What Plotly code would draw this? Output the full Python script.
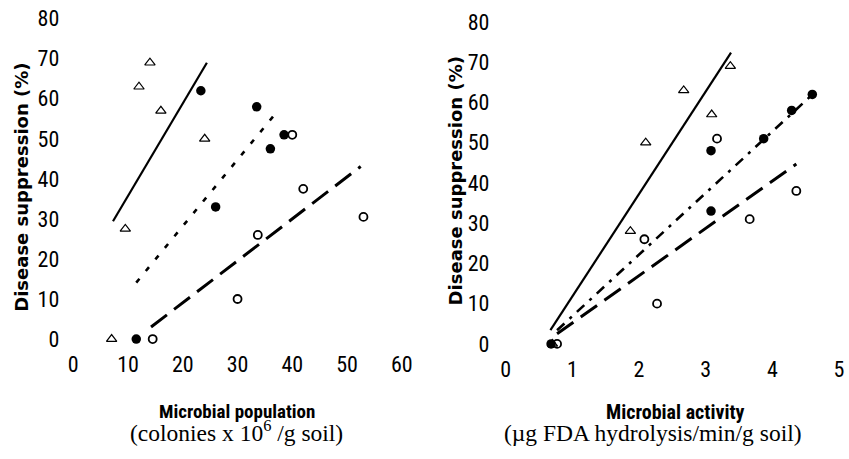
import plotly.graph_objects as go

W, H = 849, 459


def fx(p):
    return p / W


def fy(p):
    return 1 - p / H


# ---------------- Left panel: microbial population ----------------
pop_tri_x = [14, 12, 16, 24, 9.5, 7]
pop_tri_y = [69, 63, 57, 50, 27.5, 0]
pop_fill_x = [23.3, 33.5, 38.5, 36, 26, 11.5]
pop_fill_y = [62, 58, 51, 47.5, 33, 0]
pop_open_x = [40, 42, 53, 33.7, 30, 14.5]
pop_open_y = [51, 37.5, 30.5, 26, 10, 0]
# fitted lines (end points)
pop_fit_tri_x = [7.25, 24.4]
pop_fit_tri_y = [29.4, 69.0]
pop_fit_fill_x = [11.5, 37.6]
pop_fit_fill_y = [14.1, 57.4]
pop_fit_open_x = [14.2, 52.5]
pop_fit_open_y = [3.0, 43.1]

# ---------------- Right panel: microbial activity ----------------
act_tri_x = [3.37, 2.67, 3.09, 2.10, 1.87, 0.70]
act_tri_y = [69, 63, 57, 50, 28, 0]
act_fill_x = [4.60, 4.29, 3.87, 3.08, 3.08, 0.68]
act_fill_y = [62, 58, 51, 48, 33, 0]
act_open_x = [3.17, 4.36, 3.66, 2.08, 2.27, 0.77]
act_open_y = [51, 38, 31, 26, 10, 0]
act_fit_tri_x = [0.67, 3.38]
act_fit_tri_y = [3.4, 72.4]
act_fit_fill_x = [0.77, 4.61]
act_fit_fill_y = [3.4, 62.1]
act_fit_open_x = [0.77, 4.36]
act_fit_open_y = [2.5, 44.7]

y_ticks = [0, 10, 20, 30, 40, 50, 60, 70, 80]
pop_ticks = [0, 10, 20, 30, 40, 50, 60]
act_ticks = [0, 1, 2, 3, 4, 5]

NARROW = "Roboto Condensed, DejaVu Sans Condensed, sans-serif"
SERIF = "Liberation Serif, DejaVu Serif, serif"
TICK_FONT = dict(family=NARROW, size=22, color="black")

fig = go.Figure()


def add_panel(xa, ya, tri_x, tri_y, fill_x, fill_y, open_x, open_y,
              ft_x, ft_y, ff_x, ff_y, fo_x, fo_y, fill_dash):
    fig.add_trace(go.Scatter(x=ft_x, y=ft_y, mode="lines", xaxis=xa, yaxis=ya,
                             line=dict(color="black", width=2.2), showlegend=False))
    fig.add_trace(go.Scatter(x=ff_x, y=ff_y, mode="lines", xaxis=xa, yaxis=ya,
                             line=dict(color="black", width=2.6, dash=fill_dash), showlegend=False))
    fig.add_trace(go.Scatter(x=fo_x, y=fo_y, mode="lines", xaxis=xa, yaxis=ya,
                             line=dict(color="black", width=3, dash="20px,9px"), showlegend=False))
    fig.add_trace(go.Scatter(x=tri_x, y=tri_y, mode="markers", xaxis=xa, yaxis=ya,
                             marker=dict(symbol="triangle-up-open", size=9, color="black",
                                         line=dict(width=1.2)), showlegend=False, cliponaxis=False))
    fig.add_trace(go.Scatter(x=fill_x, y=fill_y, mode="markers", xaxis=xa, yaxis=ya,
                             marker=dict(symbol="circle", size=9.5, color="black"),
                             showlegend=False, cliponaxis=False))
    fig.add_trace(go.Scatter(x=open_x, y=open_y, mode="markers", xaxis=xa, yaxis=ya,
                             marker=dict(symbol="circle-open", size=8, color="black",
                                         line=dict(width=1.8)), showlegend=False, cliponaxis=False))


add_panel("x", "y", pop_tri_x, pop_tri_y, pop_fill_x, pop_fill_y, pop_open_x, pop_open_y,
          pop_fit_tri_x, pop_fit_tri_y, pop_fit_fill_x, pop_fit_fill_y,
          pop_fit_open_x, pop_fit_open_y, "5px,10px")
add_panel("x2", "y2", act_tri_x, act_tri_y, act_fill_x, act_fill_y, act_open_x, act_open_y,
          act_fit_tri_x, act_fit_tri_y, act_fit_fill_x, act_fit_fill_y,
          act_fit_open_x, act_fit_open_y, "10px,7px,3px,7px")

common_ax = dict(showgrid=False, zeroline=False, showline=False, ticks="",
                 tickfont=TICK_FONT, ticklabelstandoff=2, ticklabeloverflow="allow")

# left: x 0 -> 73.5px, 5.487 px/unit ; y 0 -> 341.7px, 4.083 px/unit
# right: x 0 -> 507px, 66.8 px/unit ; y 0 -> 346.7px, 4.105 px/unit
fig.update_layout(
    width=W, height=H,
    margin=dict(l=0, r=0, t=0, b=0),
    paper_bgcolor="white", plot_bgcolor="white",
    xaxis=dict(domain=[fx(62.5), fx(413.7)], range=[-2, 62], tickvals=pop_ticks,
               anchor="y", **common_ax),
    yaxis=dict(domain=[fy(349.9), fy(6.8)], range=[-2, 82], tickvals=y_ticks,
               anchor="x", **common_ax),
    xaxis2=dict(domain=[fx(493.6), fx(844.3)], range=[-0.2, 5.05], tickvals=act_ticks,
                anchor="y2", **common_ax),
    yaxis2=dict(domain=[fy(354.9), fy(10.1)], range=[-2, 82], tickvals=y_ticks,
                anchor="x2", **common_ax),
)

annotations = [
    dict(text="<b>Microbial population</b>", x=fx(238), y=fy(416),
         font=dict(family=NARROW, size=19, color="black")),
    dict(text="(colonies x 10<sup>6</sup> /g soil)", x=fx(237), y=fy(436),
         font=dict(family=SERIF, size=23.5, color="black")),
    dict(text="<b>Microbial activity</b>", x=fx(677), y=fy(416),
         font=dict(family=NARROW, size=20, color="black")),
    dict(text="(µg FDA hydrolysis/min/g soil)", x=fx(655), y=fy(438),
         font=dict(family=SERIF, size=23.5, color="black")),
    dict(text="<b>Disease suppression (%)</b>", x=fx(22), y=fy(186.5), textangle=-90,
         font=dict(family="DejaVu Sans, sans-serif", size=18, color="black")),
    dict(text="<b>Disease suppression (%)</b>", x=fx(457), y=fy(180), textangle=-90,
         font=dict(family="DejaVu Sans, sans-serif", size=18, color="black")),
]
for a in annotations:
    a.update(xref="paper", yref="paper", showarrow=False, xanchor="center", yanchor="middle")
fig.update_layout(annotations=annotations)

# remove the browser's default 8px body margin so the figure fills the window exactly
fig.write_html("out.html", config={"displayModeBar": False},
               post_script="document.body.style.margin='0';")
